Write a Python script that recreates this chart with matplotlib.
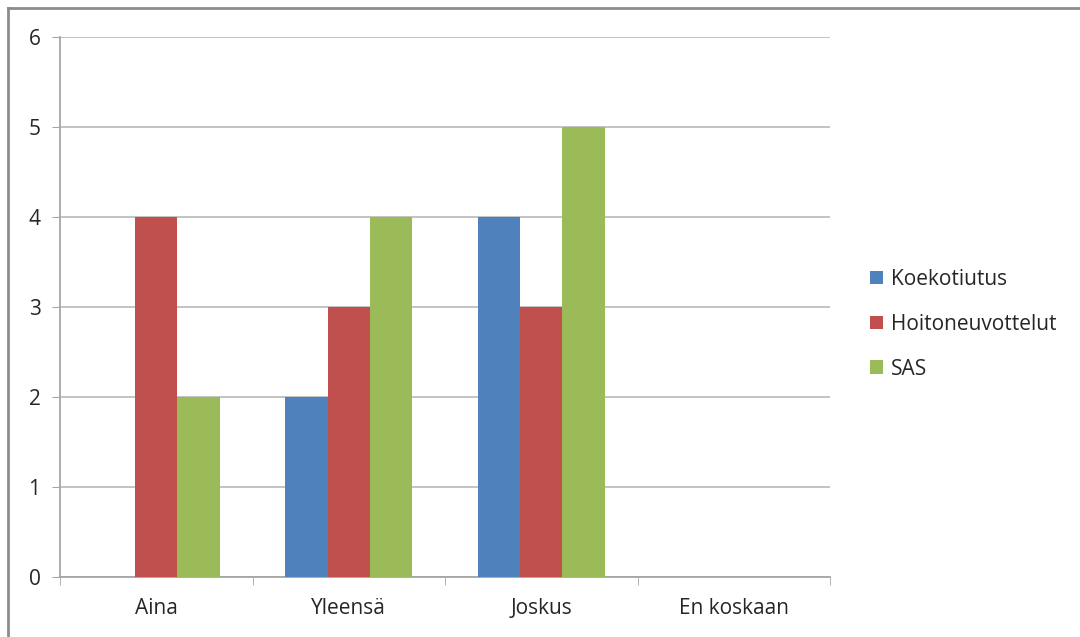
import numpy as np
import matplotlib.pyplot as plt
from matplotlib.lines import Line2D

plt.rcParams['font.family'] = ['Open Sans', 'DejaVu Sans']

categories = ['Aina', 'Yleensä', 'Joskus', 'En koskaan']
series_names = ['Koekotiutus', 'Hoitoneuvottelut', 'SAS']
koekotiutus = [0, 2, 4, 0]
hoitoneuvottelut = [4, 3, 3, 0]
sas = [2, 4, 5, 0]
colors = ['#4F81BD', '#C0504D', '#9BBB59']

fig = plt.figure(figsize=(10.8, 6.37), dpi=100)
ax = fig.add_axes([60 / 1080, 1 - 577 / 637, 770 / 1080, 540 / 637])

x = np.arange(len(categories))
width = 0.22
for i, (name, vals, c) in enumerate(zip(series_names, [koekotiutus, hoitoneuvottelut, sas], colors)):
    ax.bar(x + (i - 1) * width, vals, width, color=c, label=name, zorder=3)

ax.set_xlim(-0.5, len(categories) - 0.5)
ax.set_ylim(0, 6)
ax.set_yticks(range(0, 7))
ax.set_xticks(x)
ax.set_xticklabels(categories)
ax.set_xticks(np.arange(-0.5, len(categories)), minor=True)
ax.tick_params(axis='x', which='major', length=0, pad=15, labelsize=15, colors='#262626')
ax.tick_params(axis='x', which='minor', length=6, color='#A6A6A6', direction='out')
ax.tick_params(axis='y', length=6, color='#A6A6A6', pad=8, labelsize=15, labelcolor='#262626')
ax.grid(axis='y', color='#BEBEBE', linewidth=1.3, zorder=0)

for s in ['top', 'right']:
    ax.spines[s].set_visible(False)
for s in ['left', 'bottom']:
    ax.spines[s].set_color('#A6A6A6')
    ax.spines[s].set_linewidth(1.3)

leg = ax.legend(loc='center left', bbox_to_anchor=(1.027, 0.468), frameon=False,
                fontsize=15, handlelength=0.65, handleheight=0.65, handletextpad=0.4,
                labelspacing=1.15, labelcolor='#262626')

# outer frame along top and left
fig.add_artist(Line2D([8 / 1080, 8 / 1080], [0, 1 - 8 / 637], transform=fig.transFigure,
                      color='#8C8C8C', linewidth=2))
fig.add_artist(Line2D([8 / 1080, 1], [1 - 8 / 637, 1 - 8 / 637], transform=fig.transFigure,
                      color='#8C8C8C', linewidth=2))

fig.savefig('out.png', dpi=100)
